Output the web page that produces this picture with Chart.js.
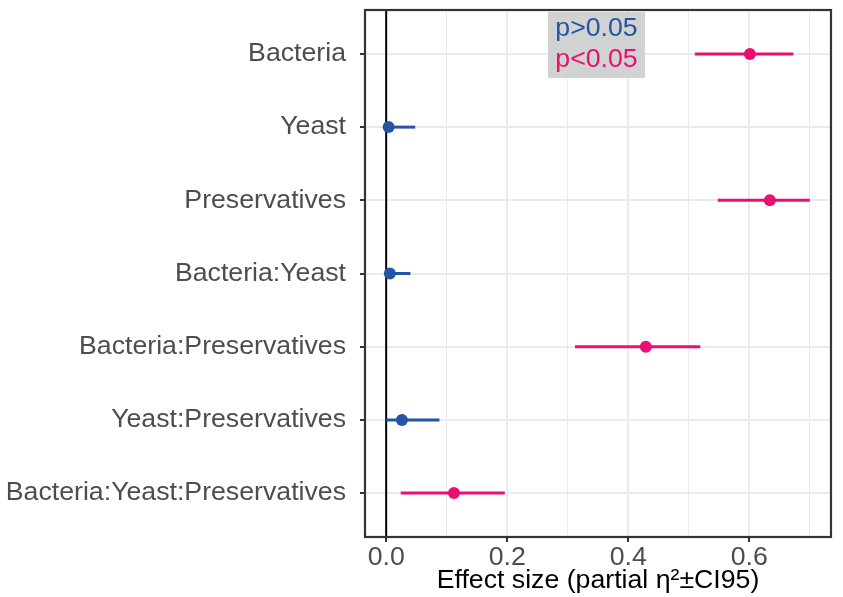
<!DOCTYPE html>
<html>
<head>
<meta charset="utf-8">
<script src="https://cdn.jsdelivr.net/npm/chart.js@4.4.1/dist/chart.umd.min.js"></script>
<style>
  html, body { margin: 0; padding: 0; background: #fff; }
  #wrap { width: 843px; height: 597px; }
</style>
</head>
<body>
<div id="wrap"><canvas id="chart" width="843" height="597"></canvas></div>
<script>
// terms, top to bottom
const terms = ['Bacteria', 'Yeast', 'Preservatives', 'Bacteria:Yeast',
  'Bacteria:Preservatives', 'Yeast:Preservatives', 'Bacteria:Yeast:Preservatives'];
// partial eta squared and its 95% CI
const eta   = [0.601, 0.004, 0.634, 0.006, 0.429, 0.026, 0.112];
const lower = [0.510, 0.000, 0.548, 0.000, 0.312, 0.000, 0.024];
const upper = [0.673, 0.048, 0.700, 0.040, 0.519, 0.088, 0.196];
const pval  = [0.001, 0.62, 0.001, 0.70, 0.001, 0.25, 0.003];
const xTicks = [0, 0.1, 0.2, 0.3, 0.4, 0.5, 0.6, 0.7];

const BLUE = '#2455a4';
const PINK = '#ec0e72';
const FONT = "'Liberation Sans', Arial, sans-serif";
const FSIZE = 26.7;

function sigColor(i) {
  return pval[i] < 0.05 ? PINK : BLUE;
}

function isMajor(v) {
  return Math.round(v * 10) % 2 === 0;
}

// one little line dataset per CI
const ciSets = terms.map((t, i) => ({
  type: 'line',
  data: [{x: lower[i], y: i + 1}, {x: upper[i], y: i + 1}],
  borderColor: sigColor(i),
  borderWidth: 3,
  pointRadius: 0,
  fill: false,
  order: 2
}));

const pointSet = {
  type: 'scatter',
  data: terms.map((t, i) => ({x: eta[i], y: i + 1})),
  backgroundColor: terms.map((t, i) => sigColor(i)),
  borderWidth: 0,
  pointRadius: 6,
  order: 1
};

// panel border, zero line and the p-value key
const extras = {
  id: 'extras',
  beforeDatasetsDraw(chart) {
    const {ctx, chartArea: a, scales} = chart;
    const x0 = scales.x.getPixelForValue(0);
    ctx.save();
    ctx.strokeStyle = '#000';
    ctx.lineWidth = 2;
    ctx.beginPath();
    ctx.moveTo(x0, a.top);
    ctx.lineTo(x0, a.bottom);
    ctx.stroke();
    ctx.restore();
  },
  afterDatasetsDraw(chart) {
    const {ctx, chartArea: a} = chart;
    ctx.save();
    ctx.strokeStyle = '#333';
    ctx.lineWidth = 2.2;
    ctx.strokeRect(a.left, a.top, a.right - a.left, a.bottom - a.top);
    // key box
    ctx.fillStyle = '#d1d2d2';
    ctx.fillRect(548, 12, 97, 66);
    ctx.font = FSIZE + 'px ' + FONT;
    ctx.textAlign = 'center';
    ctx.textBaseline = 'middle';
    ctx.fillStyle = BLUE;
    ctx.fillText('p>0.05', 596.5, 29);
    ctx.fillStyle = PINK;
    ctx.fillText('p<0.05', 596.5, 60);
    ctx.restore();
  }
};

new Chart(document.getElementById('chart'), {
  data: {datasets: [...ciSets, pointSet]},
  options: {
    responsive: false,
    animation: false,
    layout: {padding: {top: 10, right: 12, left: 0, bottom: 0}},
    plugins: {legend: {display: false}, tooltip: {enabled: false}},
    scales: {
      x: {
        type: 'linear',
        min: -0.035,
        max: 0.735,
        afterBuildTicks: s => { s.ticks = xTicks.map(v => ({value: v})); },
        afterFit: s => { s.height = 60; s.paddingLeft = 0; s.paddingRight = 0; },
        ticks: {
          autoSkip: false,
          maxRotation: 0,
          color: '#4d4d4d',
          font: {family: FONT, size: FSIZE},
          padding: 0,
          callback: v => (isMajor(v) ? v.toFixed(1) : '')
        },
        grid: {
          color: '#ebebeb',
          lineWidth: c => (isMajor(c.tick.value) ? 2 : 1),
          tickLength: 5,
          tickColor: c => (isMajor(c.tick.value) ? '#333' : 'rgba(0,0,0,0)'),
          tickWidth: 2
        },
        border: {display: false},
        title: {
          display: true,
          text: 'Effect size (partial η²±CI95)',
          color: '#000',
          font: {family: FONT, size: FSIZE},
          padding: {top: 0, bottom: 0}
        }
      },
      y: {
        type: 'linear',
        reverse: true,
        min: 0.4,
        max: 7.6,
        afterBuildTicks: s => { s.ticks = terms.map((t, i) => ({value: i + 1})); },
        afterFit: s => { s.width = 365; s.paddingTop = 0; s.paddingBottom = 0; },
        ticks: {
          autoSkip: false,
          color: '#4d4d4d',
          font: {family: FONT, size: FSIZE},
          padding: 14,
          callback: v => terms[v - 1]
        },
        grid: {
          color: '#ebebeb',
          lineWidth: 2,
          tickLength: 5,
          tickColor: '#333',
          tickWidth: 2
        },
        border: {display: false}
      }
    }
  },
  plugins: [extras]
});
</script>
</body>
</html>
